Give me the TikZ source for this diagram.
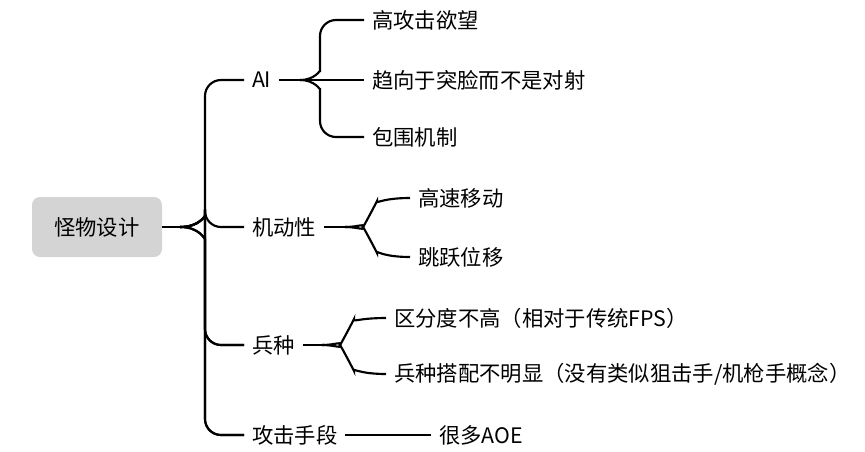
\documentclass[tikz,border=0pt]{standalone}
\usepackage{fontspec}
\newfontfamily\cjk{Noto Sans CJK SC}
\begin{document}
\begin{tikzpicture}[x=0.75pt,y=-0.75pt]
\tikzstyle{root}=[rectangle, rounded corners=6pt, fill=black!17, minimum width=97.5pt, minimum height=45pt, font=\cjk\fontsize{16}{19}\selectfont]
\tikzstyle{main}=[anchor=west, inner sep=0pt, outer sep=6pt, font=\cjk\fontsize{16}{19}\selectfont]
\tikzstyle{connect}=[line width=1.6pt, rounded corners=12pt]
  \useasboundingbox (0,0) rectangle (865,451);
  % root
  \node[root] (root) at (97,227) {怪物设计};
  % branches
  \node[main] (ai) at (244,80) {AI};
  \node[main] (mob) at (244,227) {机动性};
  \node[main] (troop) at (244,345) {兵种};
  \node[main] (atk) at (244,435) {攻击手段};
  % leaves
  \node[main] (ai1) at (364,20) {高攻击欲望};
  \node[main] (ai2) at (364,80) {趋向于突脸而不是对射};
  \node[main] (ai3) at (364,137) {包围机制};
  \node[main] (mob1) at (410,198) {高速移动};
  \node[main] (mob2) at (410,257) {跳跃位移};
  \node[main] (tr1) at (386,318) {区分度不高（相对于传统FPS）};
  \node[main] (tr2) at (386,374) {兵种搭配不明显（没有类似狙击手/机枪手概念）};
  \node[main] (atk1) at (431,435) {很多AOE};
  % forks
  \coordinate (f0) at (180,227);
  \coordinate (fa) at (300,80);
  \coordinate (fm) at (345,227);
  \coordinate (ft) at (322,345);
  \draw[connect] (root.east) -- (f0);
  \foreach \n in {ai,mob,troop,atk}
    \draw[connect] (f0) .. controls (200,227) and (205,215) .. (205,200) |- (\n.west);
  \draw[connect] (f0) .. controls (200,227) and (205,240) .. (205,255) |- (atk.west);
  \draw[connect] (f0) .. controls (200,227) and (205,240) .. (205,255) |- (troop.west);
  \draw[connect] (ai.east) -- (fa);
  \draw[connect] (fa) .. controls (315,80) and (320,70) .. (320,55) |- (ai1.west);
  \draw[connect] (fa) .. controls (315,80) and (320,90) .. (320,105) |- (ai3.west);
  \draw[connect] (fa) -- (ai2.west);
  \draw[connect] (mob.east) -- (fm);
  \draw[connect] (fm) .. controls (360,227) and (366,222) .. (370,215) .. controls (375,205) and (380,198) .. (mob1.west);
  \draw[connect] (fm) .. controls (360,227) and (366,232) .. (370,239) .. controls (375,249) and (380,257) .. (mob2.west);
  \draw[connect] (troop.east) -- (ft);
  \draw[connect] (ft) .. controls (337,345) and (343,340) .. (347,333) .. controls (352,323) and (357,318) .. (tr1.west);
  \draw[connect] (ft) .. controls (337,345) and (343,350) .. (347,357) .. controls (352,367) and (357,374) .. (tr2.west);
  \draw[connect] (atk.east) -- (atk1.west);
\end{tikzpicture}
\end{document}
